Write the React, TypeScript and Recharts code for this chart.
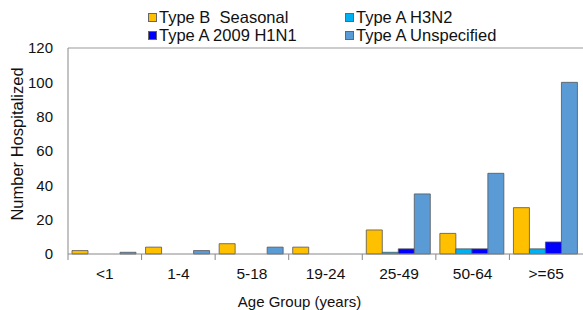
import React from 'react';
import { BarChart, Bar, XAxis, YAxis, ReferenceLine } from 'recharts';

const categories = ['<1', '1-4', '5-18', '19-24', '25-49', '50-64', '>=65'];
const typeBSeasonal = [2, 4, 6, 4, 14, 12, 27];
const typeAH3N2 = [0, 0, 0, 0, 1, 3, 3];
const typeA2009H1N1 = [0, 0, 0, 0, 3, 3, 7];
const typeAUnspecified = [1, 2, 4, 0, 35, 47, 100];
const yTicks = [0, 20, 40, 60, 80, 100, 120];

const seriesNames = ['Type B  Seasonal', 'Type A H3N2', 'Type A 2009 H1N1', 'Type A Unspecified'];
const colors = ['#FFC000', '#00B0F0', '#0000FF', '#5B9BD5'];
const keys = ['b', 'h3', 'h1', 'un'];

const data = categories.map((c, i) => ({
  cat: c,
  b: typeBSeasonal[i],
  h3: typeAH3N2[i],
  h1: typeA2009H1N1[i],
  un: typeAUnspecified[i],
}));

const FONT = '"Liberation Sans", Arial, sans-serif';

const XTick = (props: any) => {
  const { x, y, payload } = props;
  const half = payload && payload.offset ? payload.offset : 36.8;
  const axisY = y - 8;
  return (
    <g>
      <line x1={x - half} x2={x - half} y1={axisY} y2={axisY + 6} stroke="#888" strokeWidth={1} />
      <text x={x} y={y + 6} dy="0.71em" textAnchor="middle" fill="#111" fontSize={15.5} fontFamily={FONT}>
        {payload.value}
      </text>
    </g>
  );
};

const YLabel = (props: any) => {
  const vb = props.viewBox || { x: 0, y: 48, width: 68, height: 206 };
  const cx = vb.x + 17;
  const cy = vb.y + vb.height / 2 - 7;
  return (
    <text
      x={cx}
      y={cy}
      transform={`rotate(-90 ${cx} ${cy})`}
      textAnchor="middle"
      dominantBaseline="central"
      fill="#111"
      fontSize={16.5}
      fontFamily={FONT}
    >
      Number Hospitalized
    </text>
  );
};

const legendItems = [
  { name: seriesNames[0], color: colors[0], left: 148, top: 8 },
  { name: seriesNames[2], color: colors[2], left: 148, top: 26 },
  { name: seriesNames[1], color: colors[1], left: 345, top: 8 },
  { name: seriesNames[3], color: colors[3], left: 345, top: 26 },
];

export default function App() {
  return (
    <div style={{ position: 'absolute', left: 0, top: 0, width: 583, height: 310, fontFamily: FONT }}>
      <BarChart
        width={583}
        height={310}
        data={data}
        margin={{ top: 48, right: 0, left: 0, bottom: 0 }}
        barGap={0}
        barCategoryGap={4}
      >
        <XAxis
          dataKey="cat"
          height={56}
          stroke="#888"
          tickLine={false}
          tick={<XTick />}
          interval={0}
          label={{ value: 'Age Group (years)', position: 'insideBottom', offset: 3, dx: -26, fill: '#111', fontSize: 15, fontFamily: FONT }}
        />
        <YAxis
          width={68}
          domain={[0, 120]}
          ticks={yTicks}
          stroke="#888"
          tickLine={false}
          tickSize={6}
          tickMargin={9}
          tick={{ fill: '#111', fontSize: 15, fontFamily: FONT }}
          label={<YLabel />}
        />
        <ReferenceLine y={120} stroke="#999" strokeWidth={1} />
        {keys.map((k, i) => (
          <Bar key={k} dataKey={k} name={seriesNames[i]} fill={colors[i]} stroke="#555" strokeWidth={0.8} isAnimationActive={false} />
        ))}
      </BarChart>
      {legendItems.map((it) => (
        <div
          key={it.name}
          style={{ position: 'absolute', left: it.left, top: it.top, height: 18, display: 'flex', alignItems: 'center', fontSize: 16.5, color: '#111', whiteSpace: 'pre' }}
        >
          <span style={{ display: 'inline-block', width: 7, height: 7, background: it.color, border: '1px solid #666', marginRight: 2 }} />
          <span>{it.name}</span>
        </div>
      ))}
    </div>
  );
}
